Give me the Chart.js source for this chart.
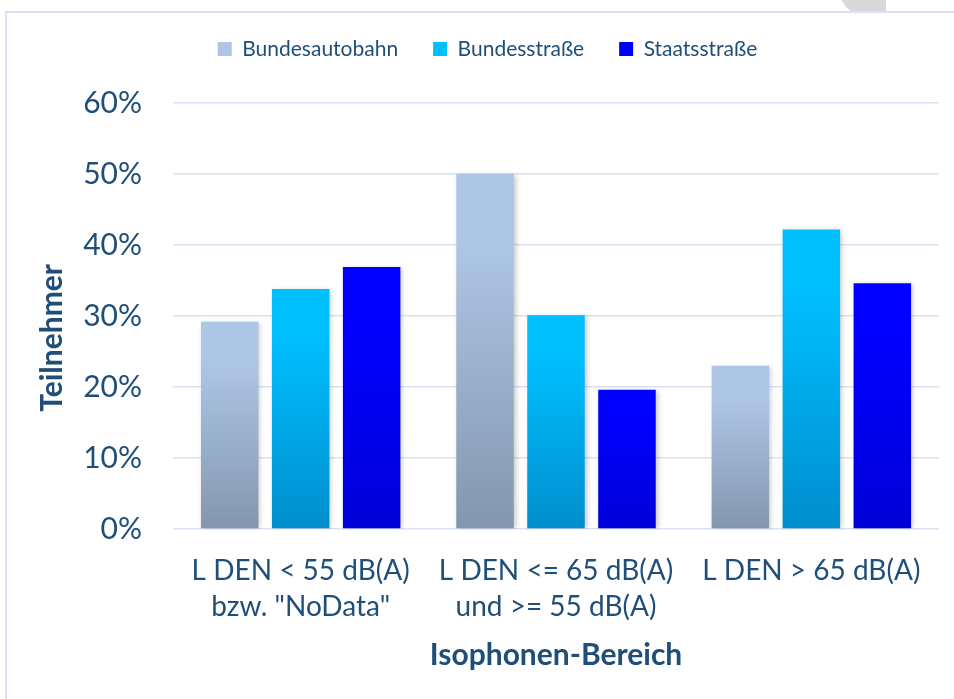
<!DOCTYPE html>
<html>
<head>
<meta charset="utf-8">
<script src="https://cdn.jsdelivr.net/npm/chart.js@4"></script>
<style>
  html, body { margin: 0; padding: 0; width: 954px; height: 699px; overflow: hidden; background: #ffffff; position: relative; }
  #deco { position: absolute; left: 840px; top: -30px; width: 46px; height: 45px; background: #d9d9d9; border-radius: 0 0 6px 24px; }
  #frame { position: absolute; left: 5px; top: 11px; width: 1100px; height: 800px; box-sizing: border-box;
           border-top: 2px solid #d9e2f2; border-left: 2px solid #d9e2f2; background: #ffffff; }
  #c { position: absolute; left: 7px; top: 13px; }
</style>
</head>
<body>
<div id="deco"></div>
<div id="frame"></div>
<canvas id="c" width="987" height="700"></canvas>
<script>
// ---- data ----
const categories = [
  ["L DEN < 55 dB(A)", "bzw. \"NoData\""],
  ["L DEN <= 65 dB(A)", "und >= 55 dB(A)"],
  ["L DEN > 65 dB(A)"]
];
const seriesNames = ["Bundesautobahn", "Bundesstraße", "Staatsstraße"];
const autobahn = [29.2, 50.0, 23.0];
const bundesstrasse = [33.8, 30.1, 42.2];
const staatsstrasse = [36.9, 19.6, 34.6];
const yTicks = [0, 10, 20, 30, 40, 50, 60];
const yAxisTitle = "Teilnehmer";
const xAxisTitle = "Isophonen-Bereich";

// ---- styles ----
const textColor = "#1f4e79";
const fontFamily = "Lato, 'Open Sans', sans-serif";

function gradientFill(topColor, bottomColor) {
  return function (ctx) {
    const chart = ctx.chart;
    const c = chart.ctx;
    if (ctx.type === 'dataset') {
      const g = c.createLinearGradient(0, 26, 0, 43);
      g.addColorStop(0, topColor);
      g.addColorStop(1, bottomColor);
      return g;
    }
    if (!chart.chartArea || !chart.scales.y) return bottomColor;
    const v = ctx.raw;
    const yTop = chart.scales.y.getPixelForValue(v);
    const yBot = chart.scales.y.getPixelForValue(0);
    if (!isFinite(yTop) || !isFinite(yBot) || yTop === yBot) return bottomColor;
    const g = c.createLinearGradient(0, yTop, 0, yBot);
    g.addColorStop(0, topColor);
    g.addColorStop(0.2, topColor);
    g.addColorStop(1, bottomColor);
    return g;
  };
}

const shadowPlugin = {
  id: 'barShadow',
  beforeDatasetsDraw(chart) {
    const c = chart.ctx;
    c.save();
    c.shadowColor = 'rgba(0,0,0,0.22)';
    c.shadowBlur = 5;
    c.shadowOffsetX = 2;
    c.shadowOffsetY = 1;
  },
  afterDatasetsDraw(chart) {
    chart.ctx.restore();
  }
};

const legendHeightPlugin = {
  id: 'legendHeight',
  beforeLayout(chart) {
    const lg = chart.legend;
    if (lg && !lg._patched) {
      const orig = lg.fit;
      lg.fit = function () {
        orig.call(this);
        this.height = 99.5;
      };
      lg._patched = true;
    }
  }
};

new Chart(document.getElementById('c'), {
  type: 'bar',
  data: {
    labels: categories,
    datasets: [
      { label: seriesNames[0], data: autobahn, backgroundColor: gradientFill('#adc6e5', '#8396af') },
      { label: seriesNames[1], data: bundesstrasse, backgroundColor: gradientFill('#00bfff', '#008ecd') },
      { label: seriesNames[2], data: staatsstrasse, backgroundColor: gradientFill('#0000ff', '#0000d8') }
    ]
  },
  plugins: [shadowPlugin, legendHeightPlugin],
  options: {
    responsive: false,
    animation: false,
    events: [],
    layout: { padding: { top: -9.5, left: 29, right: 55, bottom: 40 } },
    datasets: { bar: { categoryPercentage: 0.834, barPercentage: 0.81 } },
    plugins: {
      tooltip: { enabled: false },
      legend: {
        position: 'top',
        align: 'center',
        labels: {
          boxWidth: 14,
          boxHeight: 14,
          padding: 35,
          color: textColor,
          font: { family: fontFamily, size: 21 }
        }
      }
    },
    scales: {
      x: {
        grid: { display: false },
        border: { display: false },
        ticks: {
          color: textColor,
          padding: 15,
          maxRotation: 0,
          autoSkip: false,
          font: { family: fontFamily, size: 28, lineHeight: 1.32 }
        },
        title: {
          display: true,
          text: xAxisTitle,
          color: textColor,
          padding: { top: 0, bottom: 0 },
          font: { family: fontFamily, size: 30, weight: 'bold', lineHeight: 1.2 }
        },
        afterFit(scale) { scale.height = 144; }
      },
      y: {
        min: 0,
        max: 60,
        afterBuildTicks(scale) { scale.ticks = yTicks.map(v => ({ value: v })); },
        grid: { color: '#d9e2f1', lineWidth: 1.6, drawTicks: false },
        border: { display: false },
        ticks: {
          color: textColor,
          padding: 31,
          font: { family: fontFamily, size: 30 },
          callback: (v) => v + '%'
        },
        title: {
          display: true,
          text: yAxisTitle + '      ',
          color: textColor,
          padding: { top: -2, bottom: 0 },
          font: { family: fontFamily, size: 30, weight: 'bold', lineHeight: 1.2 }
        },
        afterFit(scale) { scale.width = 137; }
      }
    }
  }
});
</script>
</body>
</html>
